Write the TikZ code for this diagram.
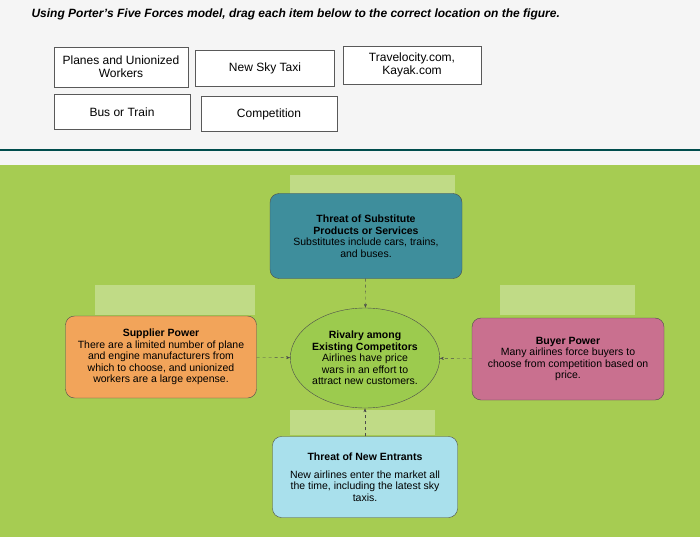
\documentclass[tikz,border=0pt]{standalone}
\usepackage{fontspec}
\setmainfont{Liberation Sans}
\usetikzlibrary{shapes.geometric,arrows.meta}
\definecolor{bg}{HTML}{A6CC52}
\definecolor{tealbox}{HTML}{3E8E9C}
\definecolor{orbox}{HTML}{F2A45A}
\definecolor{pkbox}{HTML}{C9708F}
\definecolor{elbox}{HTML}{9CCB4E}
\definecolor{ltblue}{HTML}{A9E0EC}
\begin{document}
\begin{tikzpicture}[x=1pt,y=-1pt,
 item/.style={draw=gray!70!black,fill=white,line width=0.8pt,align=center,font=\fontsize{12}{13}\selectfont},
 zone/.style={fill=white,opacity=0.3},
 force/.style={draw=gray!60!black,rounded corners=9pt,align=center,font=\fontsize{10.5}{11.5}\selectfont},
 conn/.style={dashed,gray!60!black,-{Stealth[length=4pt]}}]
\useasboundingbox (0,0) rectangle (700,537);
\fill[gray!8] (0,0) rectangle (700,165);
\node[font=\bfseries\itshape\fontsize{12}{13}\selectfont,anchor=west] (title) at (28,14) {Using Porter's Five Forces model, drag each item below to the correct location on the figure.};
\node[item,minimum width=134pt,minimum height=40pt] (i1) at (121,67) {Planes and Unionized\\Workers};
\node[item,minimum width=139pt,minimum height=36pt] (i2) at (265,68) {New Sky Taxi};
\node[item,minimum width=138pt,minimum height=38pt] (i3) at (412,65) {Travelocity.com,\\Kayak.com};
\node[item,minimum width=136pt,minimum height=35pt] (i4) at (122,112) {Bus or Train};
\node[item,minimum width=136pt,minimum height=35pt] (i5) at (269,114) {Competition};
\draw[teal!60!black,line width=2pt] (0,150) -- (700,150);
\fill[bg] (0,165) rectangle (700,537);
\fill[zone] (290,175) rectangle (455,200);
\fill[zone] (95,285) rectangle (255,315);
\fill[zone] (500,285) rectangle (635,315);
\fill[zone] (290,410) rectangle (435,435);
\node[force,fill=tealbox,minimum width=192pt,minimum height=85pt] (sub) at (366,236) {\textbf{Threat of Substitute}\\\textbf{Products or Services}\\Substitutes include cars, trains,\\and buses.};
\node[force,fill=orbox,minimum width=191pt,minimum height=82pt] (sup) at (161,357) {\textbf{Supplier Power}\\There are a limited number of plane\\and engine manufacturers from\\which to choose, and unionized\\workers are a large expense.};
\node[force,fill=pkbox,minimum width=192pt,minimum height=82pt] (buy) at (568,359) {\textbf{Buyer Power}\\Many airlines force buyers to\\choose from competition based on\\price.};
\node[ellipse,draw=gray!60!black,fill=elbox,minimum width=136pt,minimum height=100pt,inner sep=0pt,align=center,font=\fontsize{10.5}{11.5}\selectfont] (riv) at (365,358) {\textbf{Rivalry among}\\\textbf{Existing Competitors}\\Airlines have price\\wars in an effort to\\attract new customers.};
\node[force,fill=ltblue,minimum width=185pt,minimum height=81pt] (ent) at (365,477) {\textbf{Threat of New Entrants}\\[6pt]New airlines enter the market all\\the time, including the latest sky\\taxis.};
\draw[conn] (sup) -- (riv);
\draw[conn] (buy) -- (riv);
\draw[conn] (sub) -- (riv);
\draw[conn] (ent) -- (riv);
\end{tikzpicture}
\end{document}
